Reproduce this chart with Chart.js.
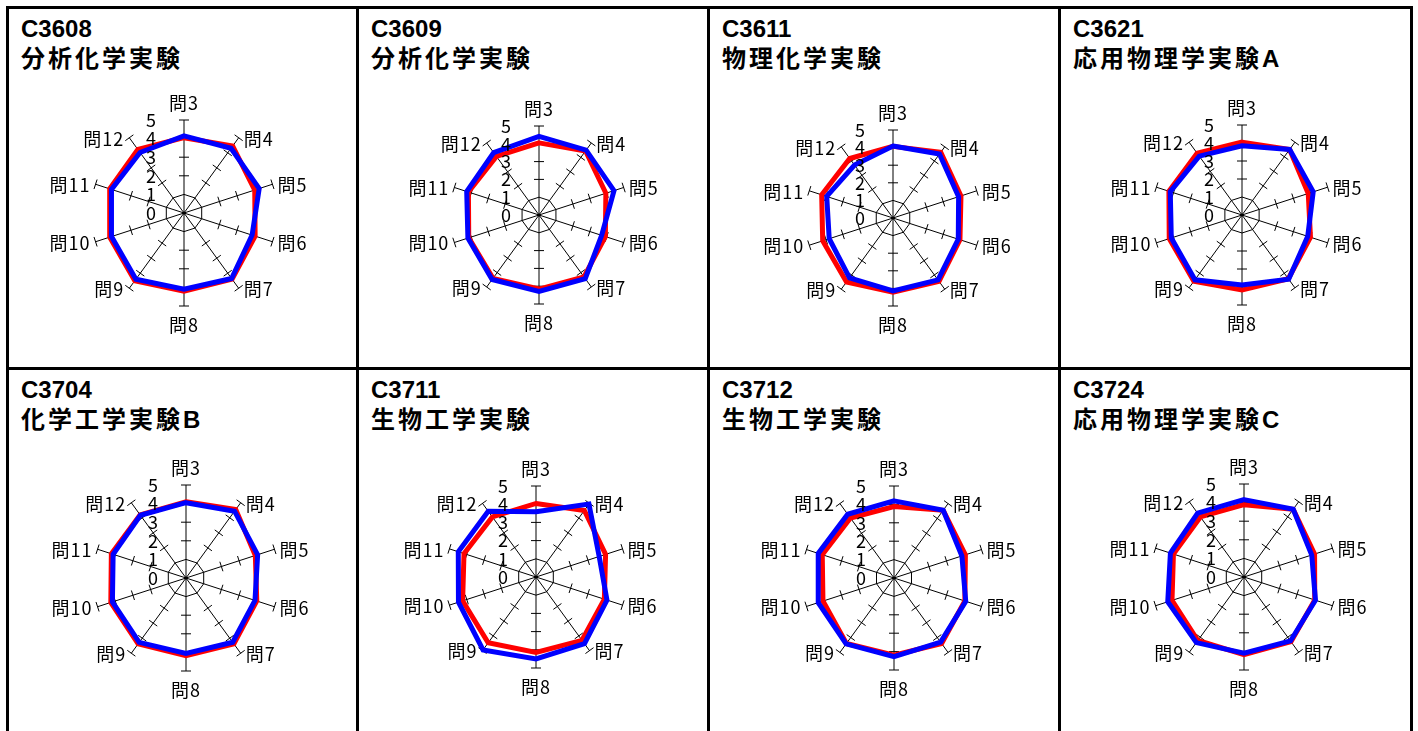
<!DOCTYPE html>
<html>
<head>
<meta charset="utf-8">
<script src="https://cdn.jsdelivr.net/npm/chart.js@4.4.1/dist/chart.umd.min.js"></script>
<style>
  html, body { margin: 0; padding: 0; background: #fff; overflow: hidden; }
  body { width: 1418px; height: 731px; position: relative; }
  .vline, .hline { position: absolute; background: #000; z-index: 5; }
  .title { position: absolute; font-family: "Liberation Sans", "Noto Sans CJK JP", sans-serif;
           font-weight: bold; font-size: 24px; line-height: 30px; color: #000; white-space: nowrap; }
  .title.jp { letter-spacing: 3px; }
  canvas { position: absolute; }
</style>
</head>
<body>
<script>
// Question axes, clockwise from the top
const categories = ['問3', '問4', '問5', '問6', '問7', '問8', '問9', '問10', '問11', '問12'];
const tickValues = [0, 1, 2, 3, 4, 5];

const courseCodes = ['C3608', 'C3609', 'C3611', 'C3621', 'C3704', 'C3711', 'C3712', 'C3724'];
const courseNames = ['分析化学実験', '分析化学実験', '物理化学実験', '応用物理学実験A',
                     '化学工学実験B', '生物工学実験', '生物工学実験', '応用物理学実験C'];

// red series
const redC3608 = [4.05, 4.45, 4.00, 4.02, 4.40, 4.20, 4.50, 4.20, 4.20, 4.22];
const redC3609 = [4.05, 4.45, 3.95, 3.92, 4.30, 4.16, 4.40, 4.15, 4.17, 4.07];
const redC3611 = [4.07, 4.62, 4.06, 4.00, 4.45, 4.22, 4.49, 4.20, 4.26, 4.18];
const redC3621 = [4.05, 4.50, 3.87, 4.00, 4.38, 4.17, 4.55, 4.25, 4.27, 4.24];
const redC3704 = [4.10, 4.55, 3.92, 4.00, 4.38, 4.17, 4.38, 4.25, 4.22, 4.20];
const redC3711 = [4.04, 4.52, 4.02, 3.95, 4.30, 4.14, 4.47, 4.24, 4.16, 4.08];
const redC3712 = [3.88, 4.55, 4.08, 4.05, 4.40, 4.20, 4.40, 4.06, 4.10, 4.03];
const redC3724 = [3.89, 4.50, 3.99, 4.00, 4.30, 4.17, 4.22, 4.07, 3.99, 3.99];

// blue series
const blueC3608 = [4.15, 4.30, 4.25, 3.85, 4.35, 4.10, 4.40, 4.10, 4.10, 4.02];
const blueC3609 = [4.42, 4.50, 4.43, 3.70, 4.42, 4.29, 4.48, 4.20, 4.27, 4.33];
const blueC3611 = [4.09, 4.49, 3.92, 3.90, 4.35, 4.14, 4.20, 3.81, 3.96, 3.72];
const blueC3621 = [3.85, 4.50, 4.16, 3.84, 4.41, 3.89, 4.45, 4.13, 4.19, 4.04];
const blueC3704 = [4.05, 4.44, 4.05, 3.90, 4.27, 4.05, 4.28, 4.16, 4.12, 4.17];
const blueC3711 = [3.58, 4.95, 3.65, 4.10, 4.53, 4.50, 4.95, 4.48, 4.49, 4.47];
const blueC3712 = [4.19, 4.55, 3.88, 4.10, 4.31, 4.28, 4.43, 4.33, 4.33, 4.28];
const blueC3724 = [4.16, 4.50, 3.83, 4.04, 4.25, 4.09, 4.36, 4.31, 4.16, 4.24];

const redSeries = [redC3608, redC3609, redC3611, redC3621, redC3704, redC3711, redC3712, redC3724];
const blueSeries = [blueC3608, blueC3609, blueC3611, blueC3621, blueC3704, blueC3711, blueC3712, blueC3724];

// page layout: panel borders, chart centres and radii
const colLines = [6, 356, 707, 1058, 1410];
const rowLines = [6, 367];
const chartPos = [
  { cx: 184, cy: 213, r: 93 }, { cx: 539, cy: 215, r: 89 }, { cx: 893, cy: 218, r: 88 }, { cx: 1242, cy: 215, r: 90 },
  { cx: 186, cy: 578, r: 93 }, { cx: 536, cy: 577, r: 91 }, { cx: 894, cy: 578, r: 92 }, { cx: 1244, cy: 577, r: 93 }
];
const CW = 340, CH = 300;
const LABEL_FONT = '18px "Noto Sans CJK JP", sans-serif';

function addDiv(cls, css, text) {
  const d = document.createElement('div');
  d.className = cls;
  Object.assign(d.style, css);
  if (text) d.textContent = text;
  document.body.appendChild(d);
  return d;
}

colLines.forEach(x => addDiv('vline', { left: x + 'px', top: '6px', width: '3px', height: '740px' }));
rowLines.forEach(y => addDiv('hline', { left: '6px', top: y + 'px', width: '1407px', height: '3px' }));

// spoke tick marks, centre dot, axis numbers and question labels
const radarDecor = {
  id: 'radarDecor',
  beforeDatasetsDraw(chart) {
    const s = chart.scales.r;
    const ctx = chart.ctx;
    ctx.save();
    ctx.strokeStyle = '#000';
    ctx.lineWidth = 1;
    ctx.beginPath();
    categories.forEach((c, i) => {
      const a = s.getIndexAngle(i) - Math.PI / 2;
      const nx = -Math.sin(a), ny = Math.cos(a);
      tickValues.filter(v => v >= 2).forEach(v => {
        const p = s.getPointPosition(i, s.getDistanceFromCenterForValue(v));
        ctx.moveTo(p.x - nx * 5, p.y - ny * 5);
        ctx.lineTo(p.x + nx * 5, p.y + ny * 5);
      });
    });
    ctx.stroke();
    ctx.beginPath();
    ctx.arc(s.xCenter, s.yCenter, 1.5, 0, Math.PI * 2);
    ctx.fillStyle = '#000';
    ctx.fill();
    ctx.restore();
  },
  afterDatasetsDraw(chart) {
    const s = chart.scales.r;
    const ctx = chart.ctx;
    ctx.save();
    ctx.fillStyle = '#000';
    ctx.font = LABEL_FONT;
    // value axis numbers, left of the vertical spoke
    ctx.textAlign = 'center';
    ctx.textBaseline = 'middle';
    tickValues.forEach(v => {
      ctx.fillText(String(v), s.xCenter - 33, s.yCenter - s.getDistanceFromCenterForValue(v));
    });
    // question labels
    ctx.letterSpacing = '1px';
    categories.forEach((c, i) => {
      const ang = s.getIndexAngle(i);
      const sin = Math.sin(ang), cos = Math.cos(ang);
      const end = s.getPointPosition(i, s.drawingArea);
      ctx.textBaseline = 'middle';
      if (Math.abs(sin) < 0.01) {
        ctx.textAlign = 'center';
        ctx.fillText(c, end.x, cos > 0 ? end.y - 17 : end.y + 19);
      } else {
        ctx.textAlign = sin > 0 ? 'left' : 'right';
        ctx.fillText(c, end.x + (sin > 0 ? 5 : -5), end.y + 1);
      }
    });
    ctx.restore();
  }
};

courseCodes.forEach((code, k) => {
  const col = k % 4, row = Math.floor(k / 4);
  const tx = colLines[col] + 15;
  const ty = rowLines[row] + 8;
  addDiv('title', { left: tx + 'px', top: ty + 'px' }, code);
  addDiv('title jp', { left: tx + 'px', top: (ty + 30) + 'px' }, courseNames[k]);

  const pos = chartPos[k];
  const cv = document.createElement('canvas');
  cv.width = CW; cv.height = CH;
  cv.style.left = (pos.cx - CW / 2) + 'px';
  cv.style.top = (pos.cy - CH / 2) + 'px';
  cv.style.width = CW + 'px'; cv.style.height = CH + 'px';
  document.body.appendChild(cv);

  new Chart(cv.getContext('2d'), {
    type: 'radar',
    data: {
      labels: categories,
      datasets: [
        { data: redSeries[k], borderColor: '#ff0000', borderWidth: 5, fill: false, pointRadius: 0, order: 1 },
        { data: blueSeries[k], borderColor: '#0000ff', borderWidth: 5, fill: false, pointRadius: 0, order: 0 }
      ]
    },
    options: {
      responsive: false,
      animation: false,
      devicePixelRatio: 1,
      layout: {
        padding: { left: CW / 2 - pos.r, right: CW / 2 - pos.r, top: CH / 2 - pos.r, bottom: CH / 2 - pos.r }
      },
      plugins: { legend: { display: false }, tooltip: { enabled: false } },
      elements: { line: { tension: 0 } },
      scales: {
        r: {
          min: 0,
          max: 5,
          ticks: { stepSize: 1, display: false },
          pointLabels: { display: false },
          grid: {
            color: (c) => (c.tick && c.tick.value === 1 ? '#000' : 'rgba(0,0,0,0)'),
            lineWidth: 1
          },
          angleLines: { color: '#000', lineWidth: 1 }
        }
      }
    },
    plugins: [radarDecor]
  });
});
</script>
</body>
</html>
